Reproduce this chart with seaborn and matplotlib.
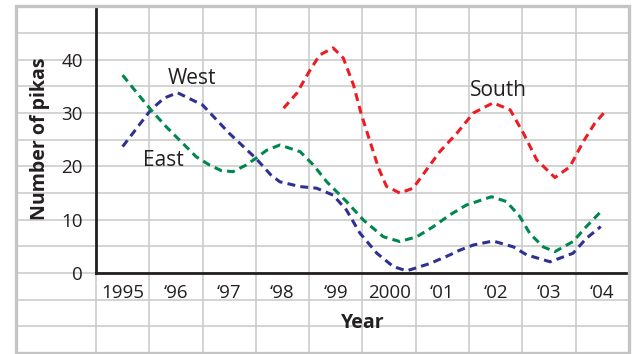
import matplotlib.pyplot as plt
import seaborn as sns
import pandas as pd
from matplotlib.patches import Rectangle

# values (year, number of pikas)
west_year = [1995.0, 1995.53, 1995.78, 1996.03, 1996.5, 1997.0, 1997.5, 1997.78, 1997.95,
             1998.33, 1998.64, 1998.95, 1999.2, 1999.45, 1999.77, 2000.08, 2000.33, 2000.77,
             2001.14, 2001.33, 2001.58, 2001.95, 2002.33, 2002.58, 2003.02, 2003.45, 2003.7, 2003.97]
west_count = [23.7, 30.6, 32.8, 33.8, 31.5, 26.2, 21.5, 18.4, 17.1,
              16.2, 15.9, 14.6, 11.8, 7.5, 3.7, 1.2, 0.4, 1.8,
              3.4, 4.3, 5.25, 6.0, 4.9, 3.4, 2.1, 3.7, 6.5, 8.7]

east_year = [1995.0, 1995.25, 1995.53, 1995.82, 1996.13, 1996.38, 1996.63, 1996.85, 1997.07,
             1997.32, 1997.5, 1997.7, 1997.95, 1998.33, 1998.58, 1998.83, 1999.2, 1999.52,
             1999.89, 2000.2, 2000.52, 2000.83, 2001.14, 2001.45, 2001.92, 2002.2, 2002.45,
             2002.64, 2002.89, 2003.11, 2003.45, 2003.7, 2004.0]
east_count = [37.1, 34.0, 30.6, 27.4, 24.3, 21.8, 20.25, 19.2, 19.0,
              20.25, 21.5, 23.0, 24.0, 22.75, 20.25, 17.1, 13.4, 9.9,
              6.8, 5.9, 6.8, 8.7, 10.9, 12.75, 14.3, 13.4, 10.6,
              7.4, 4.9, 4.0, 5.9, 8.7, 11.8]

south_year = [1998.02, 1998.27, 1998.52, 1998.7, 1998.95, 1999.14, 1999.33, 1999.48, 1999.64,
              1999.8, 1999.95, 2000.2, 2000.45, 2000.77, 2000.95, 2001.27, 2001.58, 2001.95,
              2002.27, 2002.52, 2002.77, 2003.11, 2003.39, 2003.64, 2003.86, 2004.08]
south_count = [30.9, 33.75, 38.1, 40.9, 42.2, 40.3, 35.3, 29.7, 24.7,
               19.7, 16.25, 15.0, 15.9, 20.3, 22.75, 26.2, 30.0, 31.9,
               30.6, 26.2, 21.2, 17.9, 19.9, 24.6, 28.1, 30.6]

years = [1995, 1996, 1997, 1998, 1999, 2000, 2001, 2002, 2003, 2004]
year_labels = ['1995', '\u201896', '\u201897', '\u201898', '\u201899', '2000',
               '\u201801', '\u201802', '\u201803', '\u201804']
y_ticks = [0, 10, 20, 30, 40]

ink = '#231f20'
grid_col = '#cccccc'

sns.set_style('white')
plt.rcParams['font.family'] = ['Open Sans', 'DejaVu Sans']

fig = plt.figure(figsize=(6.35, 3.54), dpi=100)
ax = fig.add_axes([16/635, 1/354, 613/635, 346.67/354])
ax.set_xlim(1993, 2004.5)
ax.set_ylim(-15, 50)

# background grid covering the whole panel
for gx in [1994.5 + i for i in range(11)]:
    ax.axvline(gx, color=grid_col, lw=1.2, zorder=0)
for gy in range(-15, 55, 5):
    ax.axhline(gy, color=grid_col, lw=1.2, zorder=0)

dash = (0, (2.6, 1.7))
sns.lineplot(x=west_year, y=west_count, ax=ax, color='#2e3192', lw=2.2, linestyle=dash, zorder=3)
sns.lineplot(x=east_year, y=east_count, ax=ax, color='#00874f', lw=2.2, linestyle=dash, zorder=3)
sns.lineplot(x=south_year, y=south_count, ax=ax, color='#ed1c24', lw=2.2, linestyle=dash, zorder=3)

ax.text(1996.3, 36.5, 'West', ha='center', va='center', fontsize=15, color=ink)
ax.text(1995.76, 21.0, 'East', ha='center', va='center', fontsize=15, color=ink)
ax.text(2002.06, 34.2, 'South', ha='center', va='center', fontsize=15, color=ink)

# axes lines inside the grid
for s in ['top', 'right']:
    ax.spines[s].set_visible(False)
ax.spines['left'].set_position(('data', 1994.5))
ax.spines['left'].set_bounds(0, 49.6)
ax.spines['bottom'].set_position(('data', 0))
ax.spines['bottom'].set_bounds(1994.5, 2004.5)
for s in ['left', 'bottom']:
    ax.spines[s].set_color(ink)
    ax.spines[s].set_linewidth(2.0)
    ax.spines[s].set_zorder(4)

ax.add_patch(Rectangle((0, 0), 1, 1, transform=ax.transAxes, fill=False,
                       ec='#c4c4c4', lw=2.4, clip_on=False, zorder=5))

ax.set_xticks(years, year_labels)
ax.set_xticks([y + 0.5 for y in years[:-1]], minor=True)
ax.tick_params(axis='x', which='major', length=0, pad=8, labelsize=13.5, labelcolor=ink)
ax.tick_params(axis='x', which='minor', length=6, width=1.5, color=ink, direction='out')
ax.set_yticks(y_ticks)
ax.tick_params(axis='y', which='major', length=8, width=1.2, color=ink, pad=1.5,
               labelsize=13.5, labelcolor=ink)
ax.set_xlabel('')
ax.set_ylabel('')

fig.text(40/635, 1 - 139/354, 'Number of pikas', rotation=90, ha='center', va='center',
         fontsize=14, fontweight='bold', color=ink)
fig.text(363/635, 1 - 323/354, 'Year', ha='center', va='center',
         fontsize=14, fontweight='bold', color=ink)

fig.savefig('out.png', dpi=100)
